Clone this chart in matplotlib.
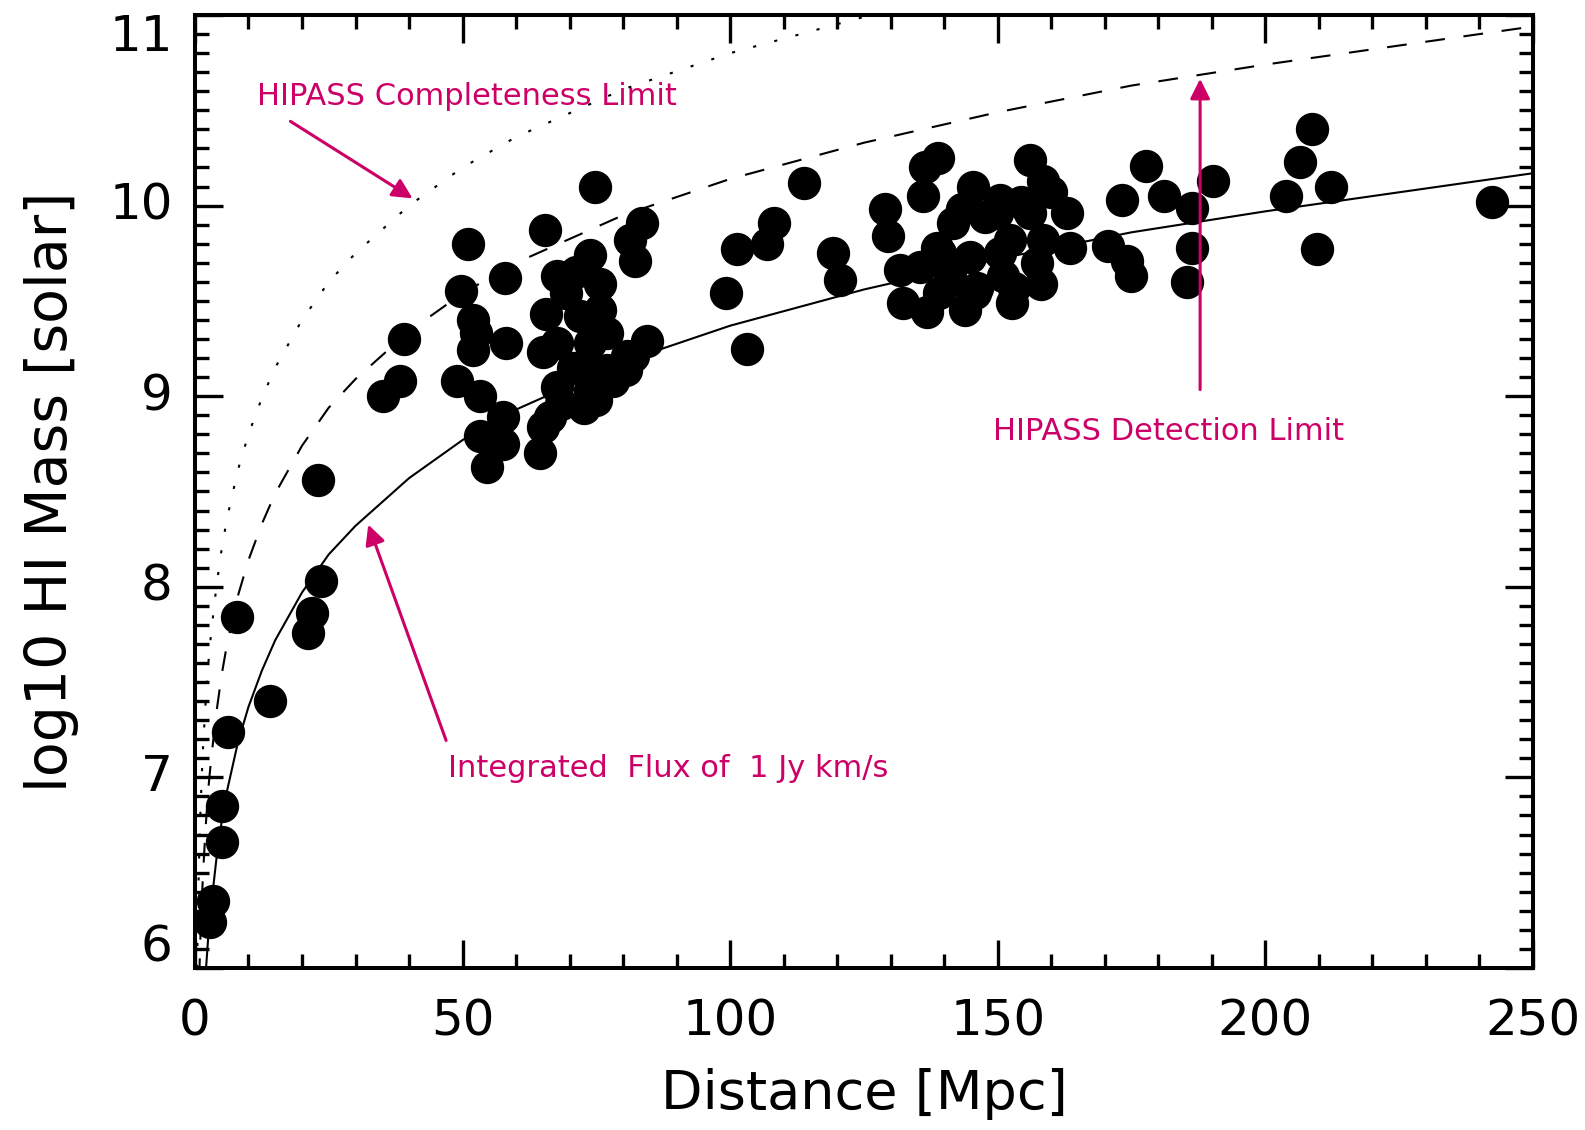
import numpy as np
import matplotlib
matplotlib.use("Agg")
import matplotlib.pyplot as plt
from matplotlib.ticker import MultipleLocator, FixedLocator

# galaxies: distance [Mpc], log10 HI mass
dist = [2.9, 3.3, 5.0, 5.0, 6.1, 7.9, 14.0, 21.1, 21.9, 23.6, 22.9, 35.1, 38.3, 39.0,
        51.1, 65.4, 74.7, 83.5, 82.3, 81.3,
        49.8, 57.9, 52.6, 58.2, 48.9, 53.3, 57.6, 53.3, 54.5, 64.5,
        52.0, 52.0, 57.6, 65.1,
        73.8, 67.6, 75.7, 71.9, 75.7, 67.6, 73.8, 65.1, 84.4, 80.7, 70.7, 76.9,
        67.6, 73.8, 66.3, 72.6, 78.2, 81.9,
        69.3, 76.9, 73.1, 68.4, 80.6, 71.2, 65.5, 75.0,
        101.2, 99.3, 103.1, 106.8, 108.1, 113.7, 119.3, 120.5,
        138.9, 136.4, 128.9, 129.5, 131.7, 132.3, 136.7, 143.9, 152.6, 136.1, 145.4, 156.0,
        158.5, 162.9, 163.5,
        141.7, 149.8, 156.0, 138.6, 144.8, 152.3, 158.5, 141.1, 151.0, 157.3, 146.1,
        143.4, 150.4, 155.6, 135.5, 139.0, 145.2, 153.0,
        141.1, 145.8, 150.5, 139.2, 158.1, 147.7, 154.3, 160.0,
        170.5, 174.1, 174.9, 177.6, 173.2, 181.1, 186.3, 190.2, 186.3, 185.4,
        208.7, 206.5, 203.9, 212.2, 209.6, 242.3]
logm = [6.24, 6.35, 6.66, 6.85, 7.24, 7.84, 7.40, 7.76, 7.86, 8.03, 8.56, 9.00, 9.08, 9.30,
        9.80, 9.87, 10.10, 9.91, 9.71, 9.82,
        9.55, 9.62, 9.33, 9.28, 9.08, 9.00, 8.89, 8.79, 8.63, 8.70,
        9.40, 9.24, 8.75, 8.84,
        9.74, 9.63, 9.59, 9.42, 9.45, 9.28, 9.28, 9.23, 9.29, 9.21, 9.15, 9.14,
        9.05, 9.03, 8.89, 8.94, 9.08, 9.21,
        9.54, 9.33, 9.17, 8.96, 9.14, 9.65, 9.43, 8.98,
        9.77, 9.54, 9.25, 9.80, 9.91, 10.12, 9.75, 9.61,
        10.25, 10.20, 9.98, 9.84, 9.66, 9.49, 9.44, 9.45, 9.49, 10.05, 10.10, 10.24,
        10.13, 9.96, 9.78,
        9.91, 9.96, 9.96, 9.78, 9.73, 9.82, 9.82, 9.61, 9.63, 9.70, 9.57,
        9.98, 10.03, 9.98, 9.68, 9.54, 9.54, 9.57,
        9.65, 9.54, 9.75, 9.75, 9.59, 9.94, 10.02, 10.07,
        9.79, 9.71, 9.63, 10.21, 10.03, 10.05, 9.99, 10.13, 9.78, 9.60,
        10.40, 10.23, 10.05, 10.10, 9.77, 10.02]

# limit curves
curve_d = [0.4, 0.5, 0.6, 0.8, 1, 1.25, 1.5, 2, 2.5, 3, 4, 5, 6, 8, 10, 12.5, 15, 20,
           25, 30, 40, 50, 60, 80, 100, 125, 150, 175, 200, 225, 250]
flux_1jy = [4.57, 4.77, 4.93, 5.18, 5.37, 5.56, 5.72, 5.97, 6.17, 6.32, 6.57, 6.77, 6.93,
            7.18, 7.37, 7.56, 7.72, 7.97, 8.17, 8.32, 8.57, 8.77, 8.93, 9.18, 9.37, 9.56,
            9.72, 9.86, 9.97, 10.07, 10.17]
detect = [5.34, 5.54, 5.70, 5.95, 6.14, 6.33, 6.49, 6.74, 6.94, 7.09, 7.34, 7.54, 7.70,
          7.95, 8.14, 8.33, 8.49, 8.74, 8.94, 9.09, 9.34, 9.54, 9.70, 9.95, 10.14, 10.33,
          10.49, 10.63, 10.74, 10.84, 10.94]
complete = [6.00, 6.20, 6.36, 6.61, 6.80, 6.99, 7.15, 7.40, 7.60, 7.75, 8.00, 8.20, 8.36,
            8.61, 8.80, 8.99, 9.15, 9.40, 9.60, 9.75, 10.00, 10.20, 10.36, 10.61, 10.80,
            10.99, 11.15, 11.29, 11.40, 11.50, 11.60]

y_ticks = [6, 7, 8, 9, 10, 11]
y_ticklabels = ["6", "7", "8", "9", "10", "11"]

pink = "#CC0066"

fig = plt.figure(figsize=(15.85, 11.3), dpi=100)
ax = fig.add_axes([0.1230, 0.1434, 0.8442, 0.8433])

ax.plot(curve_d, flux_1jy, color="black", lw=1.5)
ax.plot(curve_d, detect, color="black", lw=1.5, dashes=(9.5, 9))
ax.plot(curve_d, complete, color="black", lw=1.5, dashes=(1.5, 9))
ax.plot(dist, logm, "o", color="black", ms=23, mec="black")

ax.set_xlim(0, 250)
ax.set_ylim(6, 11)
ax.xaxis.set_major_locator(MultipleLocator(50))
ax.xaxis.set_minor_locator(MultipleLocator(10))
ax.yaxis.set_major_locator(FixedLocator(y_ticks))
ax.yaxis.set_minor_locator(MultipleLocator(0.1))
ax.set_yticklabels([])
ax.tick_params(which="both", direction="in", top=True, right=True, width=2.4, color="black")
ax.tick_params(which="major", length=20)
ax.tick_params(which="minor", length=10)
ax.tick_params(axis="x", which="major", labelsize=36, pad=21)
for s in ax.spines.values():
    s.set_linewidth(2.9)

# y tick labels; end labels nudged inside like the original
for v, lab in zip(y_ticks, y_ticklabels):
    dy = 0
    if v == 6:
        dy = 15
    elif v == 11:
        dy = -16
    ax.annotate(lab, xy=(0, v), xycoords=("axes fraction", "data"),
                xytext=(-16, dy), textcoords="offset points",
                ha="right", va="center", fontsize=36)

ax.set_xlabel("Distance [Mpc]", fontsize=39)
ax.set_ylabel("log10 HI Mass [solar]", fontsize=41)
ax.xaxis.set_label_coords(0.5, -0.105)
ax.yaxis.set_label_coords(-0.087, 0.5)

# annotations
ax.text(11.6, 10.53, "HIPASS Completeness Limit", color=pink, fontsize=22, va="baseline")
ax.annotate("", xy=(41.1, 10.03), xytext=(17.4, 10.45),
            arrowprops=dict(arrowstyle="-|>", color=pink, lw=2.2, mutation_scale=30))
ax.text(149.1, 8.77, "HIPASS Detection Limit", color=pink, fontsize=22, va="baseline")
ax.annotate("", xy=(187.8, 10.68), xytext=(187.8, 9.02),
            arrowprops=dict(arrowstyle="-|>", color=pink, lw=2.2, mutation_scale=30))
ax.text(47.3, 7.0, "Integrated  Flux of  1 Jy km/s", color=pink, fontsize=22, va="baseline")
ax.annotate("", xy=(32.2, 8.34), xytext=(47.1, 7.18),
            arrowprops=dict(arrowstyle="-|>", color=pink, lw=2.2, mutation_scale=30))

fig.savefig("out.png", dpi=100, facecolor="white")
